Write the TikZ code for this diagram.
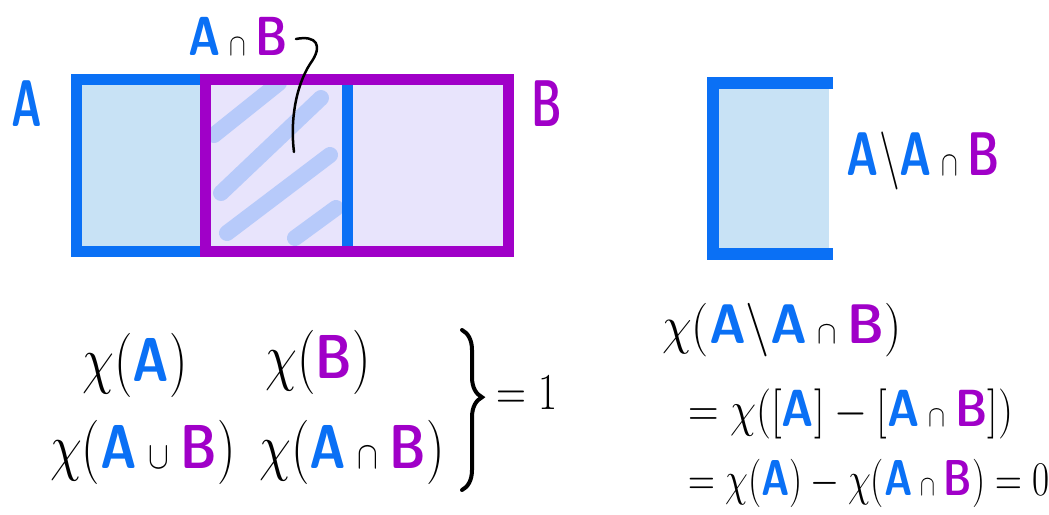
\documentclass[tikz,border=0pt]{standalone}
\usepackage{graphicx}
\usetikzlibrary{decorations.pathreplacing}
\definecolor{ablue}{RGB}{10,112,245}
\definecolor{bpurp}{RGB}{160,0,200}
\definecolor{afill}{RGB}{200,226,245}
\definecolor{bfill}{RGB}{232,228,252}
\newcommand\SA{\textcolor{ablue}{\mbox{\sffamily\bfseries A}}}
\newcommand\SB{\textcolor{bpurp}{\mbox{\sffamily\bfseries B}}}
\newcommand\ncap{\mathbin{\scalebox{0.6}{$\cap$}}}
\newcommand\ncup{\mathbin{\scalebox{0.6}{$\cup$}}}
\newcommand\tallbox[1]{\scalebox{2}[2.5]{#1}}
\newcommand\hb[3]{\scalebox{#1}[#2]{#3}}
\begin{document}
\begin{tikzpicture}[x=1pt,y=-1pt,
  lbl/.style={inner sep=0pt, font=\fontsize{22}{26}\selectfont},
  frm/.style={inner sep=0pt, font=\fontsize{20}{24}\selectfont},
  frmr/.style={inner sep=0pt, anchor=west, font=\fontsize{18}{22}\selectfont},
  hatch/.style={ablue, draw opacity=0.22, line width=16pt, line cap=round},
  edgeA/.style={ablue, line width=11pt},
  edgeB/.style={bpurp, line width=11pt}]
\useasboundingbox (0,0) rectangle (1049,514);
% left diagram
\fill[afill] (76,79) rectangle (347,251);
\fill[bfill] (205,79) rectangle (508,251);
\draw[hatch] (214,135) -- (279,83);
\draw[hatch] (221,193) -- (321,98);
\draw[hatch] (227,233) -- (330,155);
\draw[hatch] (295,238) -- (336,208);
\draw[edgeA] (76,79) rectangle (347,251);
\draw[edgeB] (205,79) rectangle (508,251);
\node[lbl] (labA) at (27,104) {\hb{1.9}{3.0}{$\SA$}};
\node[lbl] (labB) at (547,104) {\hb{1.9}{3.0}{$\SB$}};
\node[lbl] (labAB) at (238,36) {\tallbox{$\SA\ncap\SB$}};
\coordinate (tip) at (294,152);
\draw[line width=2.5pt, line cap=round] ([xshift=8pt,yshift=-3pt]labAB.east) .. controls +(20,-4) and (324,45) .. (310,64) .. controls (296,86) and (290,120) .. (tip);
% right diagram
\fill[afill] (713,83) rectangle (829,254);
\draw[ablue, line width=12pt] (833,83) -- (713,83) -- (713,254) -- (833,254);
\node[lbl] (labAmAB) at (923,161) {\hb{2}{2.8}{$\SA\backslash\SA\ncap\SB$}};
% bottom-left formulas
\node[frm] (f1) at (135,365) {\hb{2.5}{3.1}{$\chi(\SA)$}};
\node[frm] (f2) at (318,362) {\hb{2.5}{3.1}{$\chi(\SB)$}};
\node[frm] (f3) at (143,452) {\hb{2.5}{3.1}{$\chi(\SA\ncup\SB)$}};
\node[frm] (f4) at (352,452) {\hb{2.5}{3.1}{$\chi(\SA\ncap\SB)$}};
\coordinate (brT) at (462,330);
\coordinate (brB) at (462,490);
\draw[decorate, decoration={brace, amplitude=20pt, aspect=0.42}, line width=4pt, line cap=round] (brT) -- (brB);
\node[frm] (eq1) at (527,393) {\hb{2}{2.5}{$=1$}};
% bottom-right formulas
\node[frmr] (r1) at (662,330) {\hb{2.8}{3.1}{$\chi(\SA\backslash\SA\ncap\SB)$}};
\node[frmr] (r2) at (688,414) {\hb{2.45}{2.9}{$=\chi([\SA]-[\SA\ncap\SB])$}};
\node[frmr] (r3) at (688,483) {\hb{2.15}{2.8}{$=\chi(\SA)-\chi(\SA\ncap\SB)=0$}};
\end{tikzpicture}
\end{document}
